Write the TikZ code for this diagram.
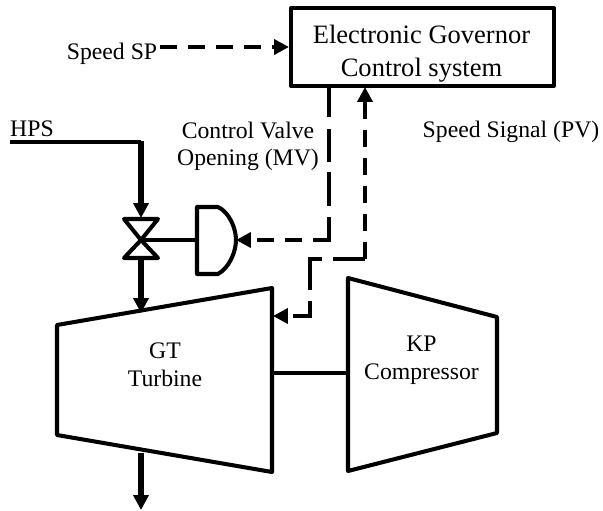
\documentclass[tikz,border=0pt]{standalone}
\usepackage{fontspec}
\setmainfont{Liberation Serif}
\usetikzlibrary{arrows.meta}
\tikzset{
  pipe/.style={line width=3pt,-{Triangle[length=8.5pt,width=8.5pt]}},
  equip/.style={line width=2.3pt,line join=round},
  sig/.style={line width=2.5pt,line join=miter,-{Triangle[length=8.5pt,width=8.5pt]}},
  lbl/.style={font=\fontsize{13.5pt}{16pt}\selectfont,align=center,inner sep=0pt}
}
\begin{document}
\begin{tikzpicture}[x=.02cm,y=-.02cm]
\useasboundingbox (0,0) rectangle (603,511);
\node[draw,equip,minimum width=263*.02cm,minimum height=78*.02cm] (gov) at (422.5,47) {};
\node[align=center,inner sep=0pt,font=\fontsize{15.1pt}{18.4pt}\selectfont] (govtxt) at (421.5,53.5) {Electronic Governor\\Control system};
\node[lbl] (sp) at (112,54) {Speed SP};
\node[lbl] (hps) at (32,129) {HPS};
\node[lbl,font=\fontsize{13.5pt}{15.5pt}\selectfont] (mv) at (248,146) {Control Valve\\Opening (MV)};
\node[lbl] (pv) at (511,132) {Speed Signal (PV)};
\node[lbl] (gt) at (165,365) {GT\\Turbine};
\node[lbl] (kp) at (421.5,360) {KP\\Compressor};
% signals
\coordinate (spend) at (160,47);
\draw[sig,line width=2.8pt,dash pattern=on 9.7pt off 6.3pt] (spend) -- (gov.west |- spend);
\coordinate (mvtop) at (329,86);
\coordinate (mvcor) at (329,240);
\coordinate (acttip) at (236,240);
\draw[sig,dash pattern=on 17.4pt off 7pt on 18.8pt off 5.7pt on 19.3pt off 6.3pt on 22.2pt off 6.3pt on 9.7pt off 6.3pt on 9.7pt off 6.3pt on 20pt off 1pt] (mvtop) -- (mvcor) -- (acttip);
\coordinate (pvtop) at (365,87);
\coordinate (pvcor) at (365,259);
\coordinate (pvmid) at (310,259);
\coordinate (pvlow) at (310,316);
\coordinate (gttip) at (273,316);
\draw[line width=2.7pt,dash pattern=on 9.7pt off 6.2pt] (pvcor) -- (365,100);
\draw[sig,line width=2.7pt] (365,102) -- (pvtop);
\draw[sig,dash pattern=on 18.2pt off 6.3pt on 24.5pt off 6.3pt] (pvcor) -- (pvmid) -- (pvlow) -- (gttip);
% valve and actuator
\coordinate (hpsa) at (10,142);
\coordinate (hpsb) at (141,142);
\coordinate (vlv) at (141,240);
\draw[line width=2pt] (hpsa) -- (hpsb);
\draw[pipe] (141,141) -- (141,218);
\draw[equip] (vlv) -- (124,219) -- (158,219) -- cycle;
\draw[equip] (vlv) -- (124,258) -- (158,258) -- cycle;
\draw[line width=1.8pt] (vlv) -- (197,240);
\draw[equip] (197,240) -- (197,207) -- (218,207) .. controls (229,212) and (236,228) .. (acttip) .. controls (236,252) and (229,268) .. (218,274) -- (197,274) -- cycle;
% turbine and compressor
\draw[equip] (57,325) -- (272,288) -- (272,472) -- (57,435) -- cycle;
\draw[equip] (348,278) -- (497,317) -- (497,433) -- (348,471) -- cycle;
\draw[line width=2pt] (272,373) -- (348,373);
\draw[pipe] (141,258) -- (141,313);
\draw[pipe] (141,453) -- (141,510);
\end{tikzpicture}
\end{document}
